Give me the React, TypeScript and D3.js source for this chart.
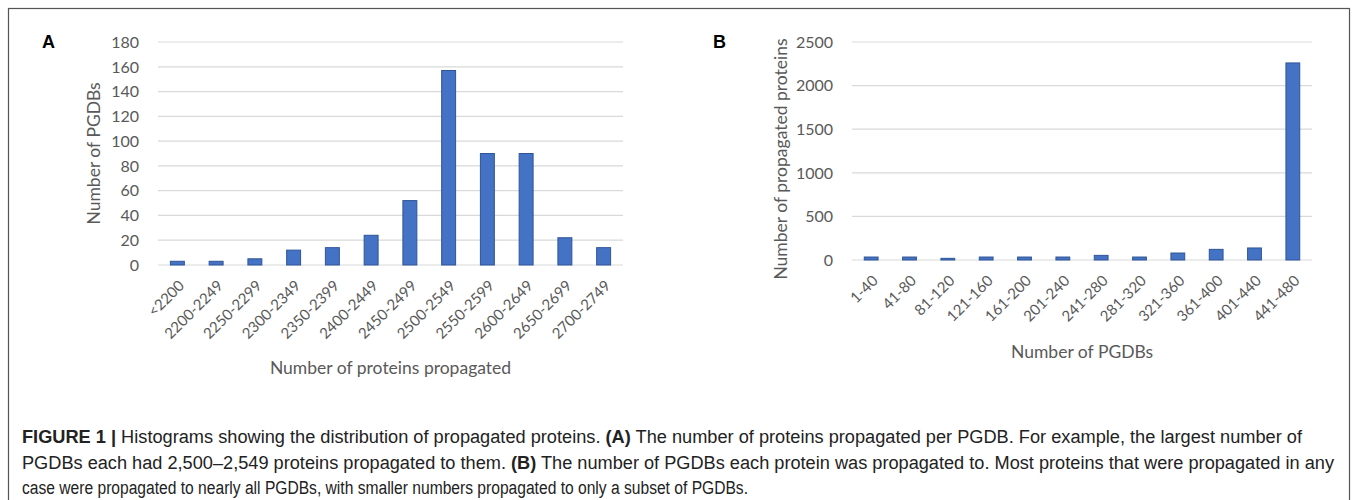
import React, { useEffect, useRef } from "react";
import * as d3 from "d3";

// panel A: proteins propagated per PGDB
const aCategories = ["<2200", "2200-2249", "2250-2299", "2300-2349", "2350-2399", "2400-2449", "2450-2499", "2500-2549", "2550-2599", "2600-2649", "2650-2699", "2700-2749"];
const aCounts = [3, 3, 5, 12, 14, 24, 52, 157, 90, 90, 22, 14];
const aTicks = [0, 20, 40, 60, 80, 100, 120, 140, 160, 180];

// panel B: PGDBs each protein was propagated to
const bCategories = ["1-40", "41-80", "81-120", "121-160", "161-200", "201-240", "241-280", "281-320", "321-360", "361-400", "401-440", "441-480"];
const bCounts = [34, 34, 19, 34, 34, 34, 53, 34, 80, 122, 138, 2260];
const bTicks = [0, 500, 1000, 1500, 2000, 2500];

const font = "Lato, 'Open Sans', sans-serif";
const grey = "#595959";

const Histogram = props => {
    const ref = useRef(null);

    useEffect(() => {
        const g = d3.select(ref.current);
        g.selectAll("*").remove();

        const x = d3.scaleBand()
            .domain(props.categories)
            .range([props.left, props.right])
            .paddingInner(0.64)
            .paddingOuter(0.32);

        const y = d3.scaleLinear()
            .domain([0, d3.max(props.ticks)])
            .range([props.bottom, props.top]);

        // gridlines
        g.selectAll("line.grid")
            .data(props.ticks)
            .enter()
            .append("line")
            .attr("class", "grid")
            .attr("x1", props.left)
            .attr("x2", props.right)
            .attr("y1", d => y(d))
            .attr("y2", d => y(d))
            .attr("stroke", "#d9d9d9")
            .attr("stroke-width", 1.2);

        // y tick labels
        g.selectAll("text.ytick")
            .data(props.ticks)
            .enter()
            .append("text")
            .attr("class", "ytick")
            .attr("x", props.left - 19)
            .attr("y", d => y(d))
            .attr("dy", "0.36em")
            .attr("text-anchor", "end")
            .attr("fill", grey)
            .style("font-family", font)
            .style("font-size", "16px")
            .text(d => d);

        // bars
        g.selectAll("rect.bar")
            .data(props.values)
            .enter()
            .append("rect")
            .attr("class", "bar")
            .attr("x", (d, i) => x(props.categories[i]))
            .attr("width", x.bandwidth())
            .attr("y", d => y(d))
            .attr("height", d => props.bottom - y(d))
            .attr("fill", "#4472c4")
            .attr("stroke", "#2f5597")
            .attr("stroke-width", 1);

        // x tick labels, rotated
        g.selectAll("text.xtick")
            .data(props.categories)
            .enter()
            .append("text")
            .attr("class", "xtick")
            .attr("transform", d => `translate(${x(d) + x.bandwidth() / 2 + 4}, ${props.bottom + 18}) rotate(-45)`)
            .attr("dy", "0.35em")
            .attr("text-anchor", "end")
            .attr("fill", grey)
            .style("font-family", font)
            .style("font-size", "15px")
            .text(d => d);

        // axis titles
        g.append("text")
            .attr("transform", `translate(${props.yTitleX}, ${(props.top + props.bottom) / 2 + props.yTitleShift}) rotate(-90)`)
            .attr("dy", "0.35em")
            .attr("text-anchor", "middle")
            .attr("fill", grey)
            .style("font-family", font)
            .style("font-size", "17.5px")
            .text(props.yTitle);

        g.append("text")
            .attr("x", (props.left + props.right) / 2)
            .attr("y", props.xTitleY)
            .attr("dy", "0.35em")
            .attr("text-anchor", "middle")
            .attr("fill", grey)
            .style("font-family", font)
            .style("font-size", "17.5px")
            .text(props.xTitle);

        // panel letter
        g.append("text")
            .attr("x", props.letterX)
            .attr("y", 48)
            .attr("fill", "#000")
            .style("font-family", "'Liberation Sans', Arial, sans-serif")
            .style("font-weight", "bold")
            .style("font-size", "18px")
            .text(props.letter);
    }, [props]);

    return <g ref={ref} />;
};

const App = () => {
    useEffect(() => {
        document.body.style.margin = "0";
    }, []);

    const capFont = "'Liberation Sans Narrow', 'Liberation Sans', Arial, sans-serif";

    return (
        <svg width={1357} height={500} style={{ display: "block", background: "#fff" }}>
            <rect x={8.5} y={8.5} width={1341} height={500} fill="none" stroke="#555" strokeWidth={1.2} />
            <Histogram
                categories={aCategories}
                values={aCounts}
                ticks={aTicks}
                left={158}
                right={623}
                top={42}
                bottom={265}
                yTitle="Number of PGDBs"
                yTitleX={94}
                yTitleShift={0}
                xTitle="Number of proteins propagated"
                xTitleY={368}
                letter="A"
                letterX={42}
            />
            <Histogram
                categories={bCategories}
                values={bCounts}
                ticks={bTicks}
                left={852}
                right={1312}
                top={42}
                bottom={260}
                yTitle="Number of propagated proteins"
                yTitleX={781}
                yTitleShift={8}
                xTitle="Number of PGDBs"
                xTitleY={352}
                letter="B"
                letterX={713}
            />
            <g style={{ fontFamily: capFont, fontSize: "18px" }} fill="#222">
                <text x={22} y={443} textLength={1280} lengthAdjust="spacingAndGlyphs">
                    <tspan fontWeight="bold">FIGURE 1 | </tspan>
                    <tspan>Histograms showing the distribution of propagated proteins. </tspan>
                    <tspan fontWeight="bold">(A)</tspan>
                    <tspan> The number of proteins propagated per PGDB. For example, the largest number of</tspan>
                </text>
                <text x={22} y={469} textLength={1312} lengthAdjust="spacingAndGlyphs">
                    <tspan>PGDBs each had 2,500–2,549 proteins propagated to them. </tspan>
                    <tspan fontWeight="bold">(B)</tspan>
                    <tspan> The number of PGDBs each protein was propagated to. Most proteins that were propagated in any</tspan>
                </text>
                <text x={22} y={494} textLength={726} lengthAdjust="spacingAndGlyphs">
                    case were propagated to nearly all PGDBs, with smaller numbers propagated to only a subset of PGDBs.
                </text>
            </g>
        </svg>
    );
};

export default App;
